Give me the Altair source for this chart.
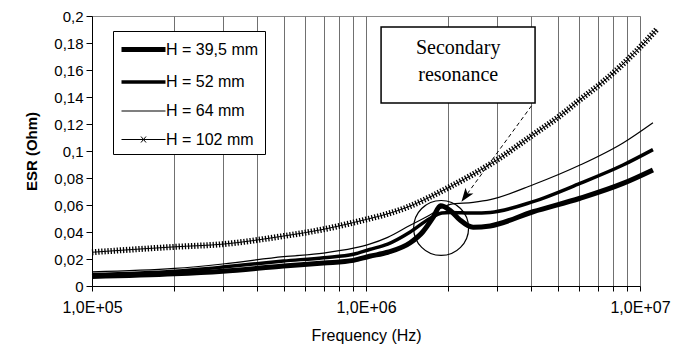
import altair as alt
import pandas as pd

series_names = ["H = 39,5 mm", "H = 52 mm", "H = 64 mm", "H = 102 mm"]

f_395 = [1e5, 2e5, 3e5, 5e5, 7e5, 9e5, 1.03e6, 1.2e6, 1.45e6, 1.61e6, 1.76e6, 1.87e6,
         2.03e6, 2.2e6, 2.46e6, 2.84e6, 4.07e6, 6.04e6, 8.67e6, 1.115e7]
esr_395 = [0.007, 0.009, 0.011, 0.0148, 0.017, 0.019, 0.022, 0.025, 0.032, 0.040, 0.051, 0.0595,
           0.056, 0.049, 0.0435, 0.0445, 0.055, 0.065, 0.076, 0.086]

f_52 = [1e5, 2e5, 3e5, 5e5, 7e5, 9e5, 1.03e6, 1.2e6, 1.45e6, 1.71e6, 1.89e6, 2.03e6,
        2.46e6, 2.84e6, 4.07e6, 6.04e6, 8.67e6, 1.115e7]
esr_52 = [0.0085, 0.011, 0.014, 0.0185, 0.021, 0.0235, 0.027, 0.031, 0.040, 0.050, 0.054, 0.0545,
          0.054, 0.0545, 0.0625, 0.076, 0.0896, 0.101]

f_64 = [1e5, 2e5, 3e5, 5e5, 7e5, 9e5, 1.03e6, 1.2e6, 1.45e6, 1.71e6, 1.89e6, 2.03e6,
        2.46e6, 2.84e6, 4.07e6, 6.04e6, 8.67e6, 1.115e7]
esr_64 = [0.0105, 0.013, 0.0163, 0.0217, 0.0244, 0.028, 0.031, 0.036, 0.045, 0.0526, 0.058, 0.0605,
          0.062, 0.064, 0.075, 0.0896, 0.106, 0.121]

f_102 = [1e5, 2e5, 3e5, 5e5, 7e5, 9e5, 1.4e6, 2.03e6, 2.88e6, 4.07e6, 5.1e6, 6.04e6, 7.3e6, 9.8e6, 1.15e7]
esr_102 = [0.025, 0.029, 0.031, 0.037, 0.042, 0.047, 0.058, 0.0736, 0.091, 0.112, 0.126, 0.138,
           0.151, 0.175, 0.19]

x_ticks = [1e5, 2e5, 3e5, 4e5, 5e5, 6e5, 7e5, 8e5, 9e5,
           1e6, 2e6, 3e6, 4e6, 5e6, 6e6, 7e6, 8e6, 9e6, 1e7]
y_ticks = [0, 0.02, 0.04, 0.06, 0.08, 0.1, 0.12, 0.14, 0.16, 0.18, 0.2]

# annotation anchors (data coordinates)
box_f = [1.135e6]
box_f2 = [4.14e6]
box_e = [0.1919]
box_e2 = [0.1356]
note_lines = ["Secondary", "resonance"]
note_f = [2.17e6, 2.17e6]
note_e = [0.1763, 0.1563]
circle_f = [1.88e6]
circle_e = [0.043]
arrow_f = [4.02e6]
arrow_e = [0.1335]
arrow_f2 = [2.23e6]
arrow_e2 = [0.0624]

rows = []
for name, fs, vs in zip(series_names, [f_395, f_52, f_64, f_102], [esr_395, esr_52, esr_64, esr_102]):
    for f, v in zip(fs, vs):
        rows.append({"series": name, "freq": f, "esr": v})
df = pd.DataFrame(rows)
df102 = df[df["series"] == "H = 102 mm"]

x_scale = alt.Scale(type="log", domain=[1e5, 1e7])
y_scale = alt.Scale(domain=[0, 0.2])

x_label_expr = ("abs(log(datum.value)/LN10 - round(log(datum.value)/LN10)) < 0.001 ? "
                "'1,0E+0' + round(log(datum.value)/LN10) : ''")
y_label_expr = "replace(format(datum.value, '.2~f'), '.', ',')"

x_axis = alt.Axis(values=x_ticks, labelExpr=x_label_expr, grid=True, gridColor="#707070",
                  gridWidth=1, tickColor="black", tickSize=5, domainColor="black",
                  labelFont="Liberation Sans", labelFontSize=16, labelColor="black",
                  labelPadding=8, labelOverlap=False, labelFlush=False,
                  titleFont="Liberation Sans", titleFontSize=16, titleFontWeight="normal",
                  titleColor="black", titlePadding=12)
y_axis = alt.Axis(values=y_ticks, labelExpr=y_label_expr, grid=False, tickColor="black",
                  tickSize=6, domainColor="black", labelFont="Liberation Sans",
                  labelFontSize=15, labelColor="black", labelPadding=3,
                  titleFont="Liberation Sans", titleFontSize=15, titleFontWeight="bold",
                  titleColor="black", titlePadding=14)

X = alt.X("freq:Q", scale=x_scale, axis=x_axis, title="Frequency (Hz)")
Y = alt.Y("esr:Q", scale=y_scale, axis=y_axis, title="ESR (Ohm)")

legend = alt.Legend(
    title=None, orient="none", legendX=21, legendY=15, direction="vertical",
    strokeColor="black", fillColor="white", padding=6,
    symbolSize=400, symbolStrokeColor="black", symbolFillColor="transparent",
    symbolOpacity=1, symbolOffset=12, labelOffset=10, rowPadding=10,
    labelFont="Liberation Sans", labelFontSize=16, labelColor="black",
)
legend_paths = ["M-2.2,0H2.2", "M-2.2,0H2.2", "M-2.2,0H2.2",
                "M-2.2,0H2.2M-0.25,-0.3L0.25,0.3M-0.25,0.3L0.25,-0.3"]

sw = alt.StrokeWidth("series:N",
                     scale=alt.Scale(type="ordinal", domain=series_names, range=[5, 3.5, 1.2, 1]),
                     legend=legend)

lines = alt.Chart(df).mark_line(color="black", interpolate="monotone").encode(
    x=X, y=Y, strokeWidth=sw)

legend_layer = alt.Chart(df.iloc[0:0]).mark_point(color="black", filled=False, opacity=1).encode(
    x=X, y=Y, strokeWidth=sw,
    shape=alt.Shape("series:N",
                    scale=alt.Scale(type="ordinal", domain=series_names, range=legend_paths),
                    legend=legend))

markers = alt.Chart(df102).mark_line(
    color="black", strokeWidth=6, strokeDash=[1.3, 1.8], interpolate="monotone"
).encode(x=X, y=Y)

box_df = pd.DataFrame({"freq": box_f, "freq2": box_f2, "esr": box_e, "esr2": box_e2})
box = alt.Chart(box_df).mark_rect(fill="white", stroke="black", strokeWidth=1.5).encode(
    x=X, x2="freq2:Q", y=Y, y2="esr2:Q")

note_df = pd.DataFrame({"freq": note_f, "esr": note_e, "txt": note_lines})
note = alt.Chart(note_df).mark_text(font="Liberation Serif", fontSize=20, color="black",
                                    align="center", baseline="middle").encode(
    x=X, y=Y, text="txt:N")

circ_df = pd.DataFrame({"freq": circle_f, "esr": circle_e})
circ = alt.Chart(circ_df).mark_point(shape="circle", filled=False, size=3019, color="black",
                                     strokeWidth=1.2, opacity=1).encode(x=X, y=Y)

arr_df = pd.DataFrame({"freq": arrow_f, "esr": arrow_e, "freq2": arrow_f2, "esr2": arrow_e2})
arrow_line = alt.Chart(arr_df).mark_rule(color="black", strokeWidth=1, strokeDash=[4, 3]).encode(
    x=X, y=Y, x2="freq2:Q", y2="esr2:Q")

head_df = pd.DataFrame({"freq": arrow_f2, "esr": arrow_e2})
arrow_head = alt.Chart(head_df).mark_point(
    shape="M0,0L-0.5,1.4L0,1.05L0.5,1.4Z", filled=True, size=380, angle=216,
    color="black", opacity=1).encode(x=X, y=Y)

chart = alt.layer(lines, legend_layer, markers, box, note, circ, arrow_line, arrow_head).properties(
    width=548, height=270,
    padding={"left": 84, "top": 8, "right": 36, "bottom": 62},
    autosize=alt.AutoSizeParams(type="none"),
).configure_view(stroke="#8a8a8a", strokeWidth=1)

chart.save("out.html", embed_options={"renderer": "svg", "actions": False})
